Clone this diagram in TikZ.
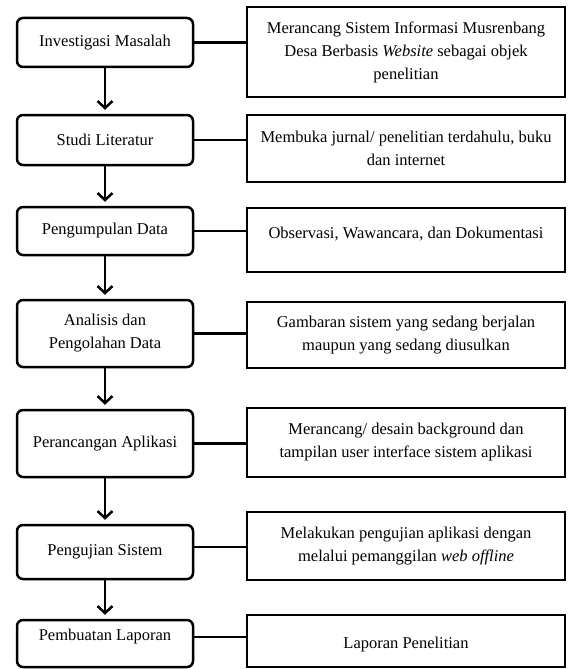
\documentclass[tikz,border=0pt]{standalone}
\usepackage{fontspec}
\setmainfont{Liberation Serif}
\usetikzlibrary{arrows.meta}
\tikzset{
  lbox/.style={draw, line width=2.5pt, rounded corners=6pt, minimum width=176pt, inner sep=0pt, align=center, font=\fontsize{16.5}{23}\selectfont},
  rbox/.style={draw, line width=2.5pt, minimum width=318pt, inner sep=0pt, align=center, font=\fontsize{16.5}{23}\selectfont},
  txt/.style={inner sep=0pt, align=center, font=\fontsize{16.5}{23}\selectfont},
  flow/.style={line width=2.5pt, -{Straight Barb[length=7pt,width=15pt,line width=2.5pt]}, shorten >=4pt},
  link/.style={line width=2.5pt}
}
\begin{document}
\begin{tikzpicture}[x=1pt,y=-1pt]
\useasboundingbox (0,0) rectangle (569,669);
% left boxes
\node[lbox, minimum height=49pt] (L1) at (105,42.5) {Investigasi Masalah};
\node[lbox, minimum height=50pt] (L2) at (105,140) {Studi Literatur};
\node[lbox, minimum height=48pt] (L3) at (105,231) {Pengumpulan Data};
\node[lbox, minimum height=67pt] (L4) at (105,333.5) {Analisis dan\\Pengolahan Data};
\node[lbox, minimum height=67pt] (L5) at (105,443.5) {Perancangan Aplikasi};
\node[lbox, minimum height=54pt] (L6) at (105,552) {Pengujian Sistem};
\node[lbox, minimum height=47pt] (L7) at (105,643.5) {};
\node[txt] (T7) at (105,637) {Pembuatan Laporan};
% right boxes
\node[rbox, minimum height=90pt] (R1) at (406,52) {Merancang Sistem Informasi Musrenbang\\Desa Berbasis \textit{Website} sebagai objek\\penelitian};
\node[rbox, minimum height=67pt] (R2) at (406,148.5) {Membuka jurnal/ penelitian terdahulu, buku\\dan internet};
\node[rbox, minimum height=64pt] (R3) at (406,240) {};
\node[txt] (T3) at (406,234) {Observasi, Wawancara, dan Dokumentasi};
\node[rbox, minimum height=66pt] (R4) at (406,335) {Gambaran sistem yang sedang berjalan\\maupun yang sedang diusulkan};
\node[rbox, minimum height=69pt] (R5) at (406,442.5) {Merancang/ desain background dan\\tampilan user interface sistem aplikasi};
\node[rbox, minimum height=68pt] (R6) at (406,546) {Melakukan pengujian aplikasi dengan\\melalui pemanggilan \textit{web offline}};
\node[rbox, minimum height=52pt] (R7) at (406,641) {};
\node[txt] (T8) at (406,645) {Laporan Penelitian};
% flow arrows
\draw[flow] (L1) -- (L2);
\draw[flow] (L2) -- (L3);
\draw[flow] (L3) -- (L4);
\draw[flow] (L4) -- (L5);
\draw[flow] (L5) -- (L6);
\draw[flow] (L6) -- (L7);
% links
\draw[link] (L1.east) -- (L1.east -| R1.west);
\draw[link] (L2.east) -- (L2.east -| R2.west);
\draw[link] (L3.east) -- (L3.east -| R3.west);
\draw[link] (L4.east) -- (L4.east -| R4.west);
\draw[link] (L5.east) -- (L5.east -| R5.west);
\draw[link] ([yshift=5pt]L6.east) -- ([yshift=5pt]L6.east -| R6.west);
\draw[link] (L7.east |- T7) -- (T7 -| R7.west);
\end{tikzpicture}
\end{document}
